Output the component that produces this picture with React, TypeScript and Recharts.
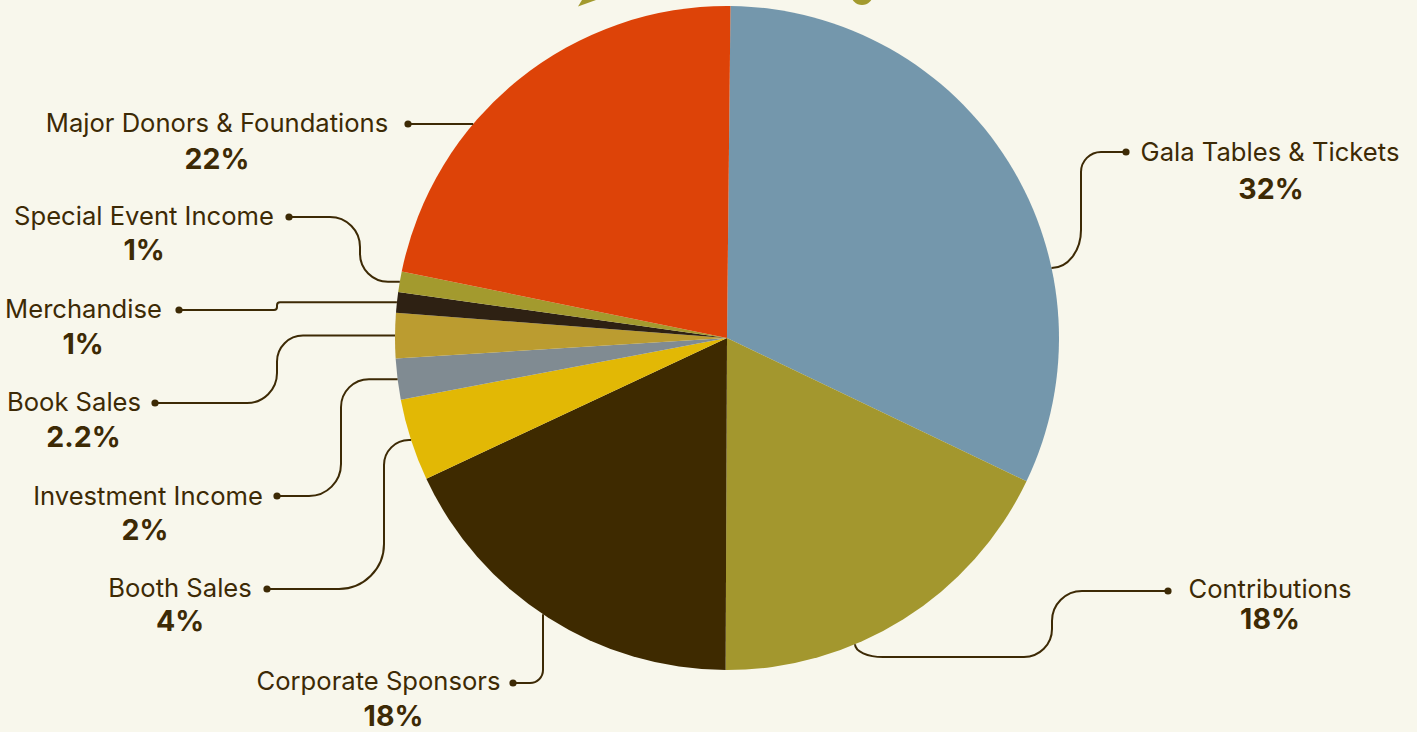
import React from 'react';
import { PieChart, Pie, Cell } from 'recharts';

// ---------- data ----------
const categories: string[] = [
  'Gala Tables & Tickets',
  'Contributions',
  'Corporate Sponsors',
  'Booth Sales',
  'Investment Income',
  'Book Sales',
  'Merchandise',
  'Special Event Income',
  'Major Donors & Foundations',
];
const shares: number[] = [32, 18, 18, 4, 2, 2.2, 1, 1, 22];
const shareLabels: string[] = ['32%', '18%', '18%', '4%', '2%', '2.2%', '1%', '1%', '22%'];

// ---------- styles ----------
const sliceColors: string[] = [
  '#7497AC',
  '#A3972E',
  '#3E2A00',
  '#E2B805',
  '#808B92',
  '#BB9C30',
  '#2E2113',
  '#A39A2E',
  '#DD4308',
];
const BG = '#F8F7EC';
const INK = '#3D2A05';
const FONT = 'Inter, "Noto Sans", sans-serif';

const chartData = categories.map((name, i) => ({ name, value: shares[i], label: shareLabels[i] }));

// ---------- label layout (annotation positions) ----------
type Via = { x: number; y: number | 'end' };
type End =
  | { kind: 'mid' }
  | { kind: 'y'; y: number; side: 1 | -1 }
  | { kind: 'x'; x: number };
interface LabelLayout {
  nameX: number;
  nameY: number;
  pctX: number;
  pctY: number;
  dot: [number, number];
  vias: Via[];
  radii: number[];
  end: End;
}

const labelLayout: LabelLayout[] = [
  { nameX: 1270, nameY: 161, pctX: 1271, pctY: 199, dot: [1126, 152], vias: [{ x: 1081, y: 152 }, { x: 1081, y: 268 }], radii: [20, 38], end: { kind: 'y', y: 268, side: 1 } },
  { nameX: 1270, nameY: 598, pctX: 1270, pctY: 629, dot: [1168, 591], vias: [{ x: 1052, y: 591 }, { x: 1052, y: 657 }, { x: 855, y: 657 }], radii: [30, 28, 28], end: { kind: 'x', x: 855 } },
  { nameX: 378.5, nameY: 690, pctX: 393.5, pctY: 725.5, dot: [513, 683], vias: [{ x: 543, y: 683 }], radii: [13], end: { kind: 'x', x: 543 } },
  { nameX: 180, nameY: 597, pctX: 180, pctY: 630.5, dot: [267, 589], vias: [{ x: 384, y: 589 }, { x: 384, y: 'end' }], radii: [45, 25], end: { kind: 'mid' } },
  { nameX: 148, nameY: 505, pctX: 145, pctY: 540, dot: [277, 496], vias: [{ x: 341, y: 496 }, { x: 341, y: 'end' }], radii: [32, 28], end: { kind: 'mid' } },
  { nameX: 74, nameY: 411, pctX: 83.5, pctY: 446.5, dot: [155, 403], vias: [{ x: 277, y: 403 }, { x: 277, y: 'end' }], radii: [30, 26], end: { kind: 'mid' } },
  { nameX: 83.5, nameY: 317.5, pctX: 83, pctY: 353.5, dot: [179, 310], vias: [{ x: 277, y: 310 }, { x: 277, y: 'end' }], radii: [3, 3], end: { kind: 'mid' } },
  { nameX: 144, nameY: 225, pctX: 144, pctY: 259.5, dot: [289, 217], vias: [{ x: 360, y: 217 }, { x: 360, y: 'end' }], radii: [30, 28], end: { kind: 'mid' } },
  { nameX: 217, nameY: 132, pctX: 217, pctY: 169, dot: [408, 124], vias: [], radii: [], end: { kind: 'y', y: 124, side: -1 } },
];

type Pt = { x: number; y: number };

function roundedPath(pts: Pt[], radii: number[]): string {
  const n = pts.length - 1;
  let d = `M${pts[0].x},${pts[0].y}`;
  for (let i = 1; i < n; i++) {
    const P = pts[i];
    const A = pts[i - 1];
    const B = pts[i + 1];
    const lenA = Math.hypot(A.x - P.x, A.y - P.y) || 1;
    const lenB = Math.hypot(B.x - P.x, B.y - P.y) || 1;
    const fa = i - 1 === 0 ? 1 : 0.5;
    const fb = i + 1 === n ? 1 : 0.5;
    const r = radii[i - 1] ?? 0;
    const d1 = Math.min(r, lenA * fa);
    const d2 = Math.min(r, lenB * fb);
    const uA = { x: (A.x - P.x) / lenA, y: (A.y - P.y) / lenA };
    const uB = { x: (B.x - P.x) / lenB, y: (B.y - P.y) / lenB };
    const S = { x: P.x + uA.x * d1, y: P.y + uA.y * d1 };
    const E = { x: P.x + uB.x * d2, y: P.y + uB.y * d2 };
    const k = 0.5523;
    const c1 = { x: S.x + (P.x - S.x) * k, y: S.y + (P.y - S.y) * k };
    const c2 = { x: E.x + (P.x - E.x) * k, y: E.y + (P.y - E.y) * k };
    d += ` L${S.x},${S.y} C${c1.x},${c1.y} ${c2.x},${c2.y} ${E.x},${E.y}`;
  }
  d += ` L${pts[n].x},${pts[n].y}`;
  return d;
}

const RAD = Math.PI / 180;

function renderLabel(props: any) {
  const { cx, cy, outerRadius, midAngle, index } = props;
  const L = labelLayout[index];
  if (!L) return null;
  const R = outerRadius;
  let end: Pt;
  if (L.end.kind === 'mid') {
    end = { x: cx + R * Math.cos(-midAngle * RAD), y: cy + R * Math.sin(-midAngle * RAD) };
  } else if (L.end.kind === 'y') {
    const dy = L.end.y - cy;
    end = { x: cx + L.end.side * Math.sqrt(Math.max(0, R * R - dy * dy)), y: L.end.y };
  } else {
    const dx = L.end.x - cx;
    end = { x: L.end.x, y: cy + Math.sqrt(Math.max(0, R * R - dx * dx)) };
  }
  const pts: Pt[] = [
    { x: L.dot[0], y: L.dot[1] },
    ...L.vias.map((v) => ({ x: v.x, y: v.y === 'end' ? end.y : v.y })),
    end,
  ];
  const d = roundedPath(pts, L.radii);
  return (
    <g key={`lbl-${index}`}>
      <path d={d} fill="none" stroke={INK} strokeWidth={2} />
      <circle cx={L.dot[0]} cy={L.dot[1]} r={3.6} fill={INK} />
      <text x={L.nameX} y={L.nameY} textAnchor="middle" fill={INK} fontFamily={FONT} fontSize={25.6}>
        {categories[index]}
      </text>
      <text x={L.pctX} y={L.pctY} textAnchor="middle" fill={INK} fontFamily={FONT} fontSize={28.5} fontWeight={700}>
        {shareLabels[index]}
      </text>
    </g>
  );
}

export default function App() {
  return (
    <div style={{ position: 'absolute', left: 0, top: 0, width: 1417, height: 732, background: BG, overflow: 'hidden' }}>
      <PieChart width={1417} height={732} margin={{ top: 0, right: 0, bottom: 0, left: 0 }}>
        <polygon points="578,6.5 582,0 596,0" fill="#A39A2E" />
        <circle cx={862} cy={-6} r={11} fill="#A39A2E" />
        <Pie
          data={chartData}
          dataKey="value"
          nameKey="name"
          cx={727}
          cy={338}
          innerRadius={0}
          outerRadius={332}
          startAngle={89.4}
          endAngle={-270.6}
          stroke="none"
          isAnimationActive={false}
          labelLine={false}
          label={renderLabel}
        >
          {chartData.map((entry, i) => (
            <Cell key={entry.name} fill={sliceColors[i]} stroke="none" />
          ))}
        </Pie>
      </PieChart>
    </div>
  );
}
